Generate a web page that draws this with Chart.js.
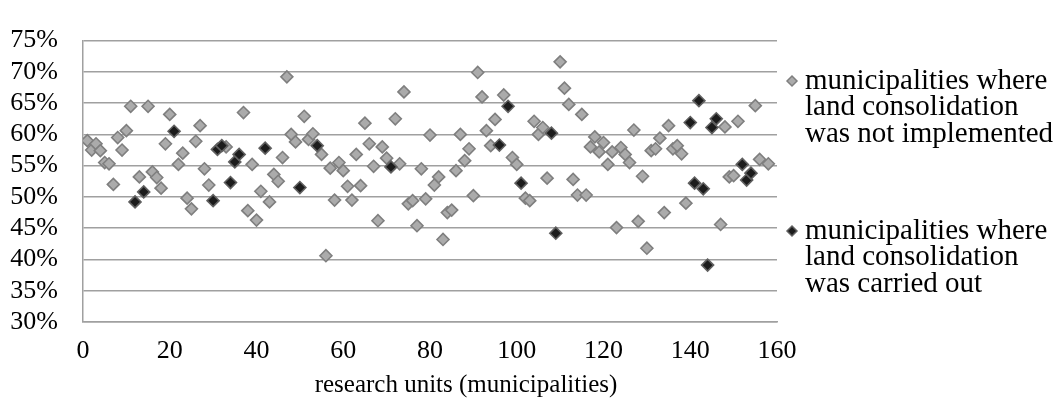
<!DOCTYPE html>
<html>
<head>
<meta charset="utf-8">
<script src="https://cdn.jsdelivr.net/npm/chart.js@4.4.0/dist/chart.umd.min.js"></script>
<style>
html,body{margin:0;padding:0;background:#fff;}
#wrap{width:1063px;height:403px;position:relative;}
canvas{display:block;}
</style>
</head>
<body>
<div id="wrap"><canvas id="c" width="1063" height="403"></canvas></div>
<script>
// ---- data ----
const notImplementedX = [1,2,3,4,5,6,7,8,9,10,11,13,15,16,17,18,19,20,22,23,24,25,26,27,28,29,33,37,38,39,40,41,43,44,45,46,47,48,49,51,52,53,55,56,57,58,59,60,61,62,63,64,65,66,67,68,69,70,72,73,74,75,76,77,78,79,80,81,82,83,84,85,86,87,88,89,90,91,92,93,94,95,97,99,100,102,103,104,105,106,107,110,111,112,113,114,115,116,117,118,119,120,121,122,123,124,125,126,127,128,129,130,131,132,133,134,135,136,137,138,139,147,148,149,150,151,155,156,158];
const notImplementedY = [59.0,57.5,58.5,57.4,55.5,55.3,52.0,59.5,57.5,60.6,64.5,53.2,64.5,54.0,53.1,51.4,58.5,63.2,55.2,57.0,49.8,48.1,58.9,61.4,54.5,51.9,58.0,63.5,47.8,55.2,46.3,50.9,49.2,53.6,52.5,56.3,69.2,60.0,58.8,62.9,59.2,60.1,56.8,40.6,54.6,49.5,55.5,54.2,51.7,49.5,56.8,51.8,61.8,58.5,54.9,46.2,58.0,56.2,62.5,55.3,66.8,48.9,49.4,45.4,54.5,49.7,59.9,51.9,53.2,43.2,47.5,47.9,54.2,60.0,55.8,57.7,50.2,69.9,66.0,60.6,58.2,62.4,66.3,56.3,55.2,49.8,49.4,62.1,60.0,61.1,53.0,71.6,67.4,64.8,52.8,50.3,63.2,50.3,58.0,59.6,57.2,58.7,55.2,57.2,45.1,57.9,56.8,55.5,60.7,46.1,53.3,41.8,57.4,57.7,59.4,47.5,61.4,57.7,58.2,56.9,49.0,45.6,61.2,53.2,53.4,62.1,64.6,56.0,55.3];

const carriedOutX = [12,14,21,30,31,32,34,35,36,42,50,54,71,96,98,101,108,109,140,141,142,143,144,145,146,152,153,154];
const carriedOutY = [49.2,50.8,60.5,49.4,57.6,58.2,52.3,55.6,56.8,57.8,51.5,58.2,54.8,58.3,64.5,52.2,60.2,44.2,61.9,52.2,65.4,51.3,39.1,61.1,62.5,55.2,52.7,53.8];

const xTickValues = [0,20,40,60,80,100,120,140,160];
const yTickValues = [30,35,40,45,50,55,60,65,70,75];

const seriesNames = [
  ["municipalities where","land consolidation","was not implemented"],
  ["municipalities where","land consolidation","was carried out"]
];
const xAxisTitle = "research units (municipalities)";

// ---- build ----
const toPts = (xs, ys) => xs.map((x, i) => ({x: x, y: ys[i]}));
const FONT = '"Liberation Serif", "Times New Roman", serif';

const styles = [
  {bg: '#ababab', border: '#7f7f7f'},
  {bg: '#1c1c1c', border: '#606060'}
];

const sideLegend = {
  id: 'sideLegend',
  afterDraw(chart) {
    const ctx = chart.ctx;
    ctx.save();
    ctx.textBaseline = 'middle';
    ctx.textAlign = 'left';
    const tops = [81, 231];
    const lineH = 26.5;
    seriesNames.forEach((lines, i) => {
      const y0 = tops[i];
      ctx.fillStyle = styles[i].bg;
      ctx.strokeStyle = styles[i].border;
      ctx.lineWidth = 1.5;
      Chart.helpers.drawPoint(ctx, {pointStyle: 'rectRot', radius: 5, borderWidth: 1.5}, 792, y0);
      ctx.fillStyle = '#000';
      ctx.font = '29px ' + FONT;
      lines.forEach((t, j) => ctx.fillText(t, 805, y0 + j * lineH));
    });
    // x-axis title
    ctx.font = '25px ' + FONT;
    ctx.textAlign = 'center';
    ctx.fillText(xAxisTitle, 466, 385);
    ctx.restore();
  }
};

const chart = new Chart(document.getElementById('c'), {
  type: 'scatter',
  data: {
    datasets: [
      {
        label: seriesNames[0].join(' '),
        data: toPts(notImplementedX, notImplementedY),
        pointStyle: 'rectRot',
        pointRadius: 6,
        pointHoverRadius: 6,
        pointBorderWidth: 1.6,
        backgroundColor: styles[0].bg,
        borderColor: styles[0].border,
        order: 1
      },
      {
        label: seriesNames[1].join(' '),
        data: toPts(carriedOutX, carriedOutY),
        pointStyle: 'rectRot',
        pointRadius: 6,
        pointHoverRadius: 6,
        pointBorderWidth: 1.6,
        backgroundColor: styles[1].bg,
        borderColor: styles[1].border,
        order: 0
      }
    ]
  },
  options: {
    responsive: false,
    animation: false,
    devicePixelRatio: 1,
    layout: {padding: {left: 0, right: 286, top: 21, bottom: 0}},
    plugins: {legend: {display: false}, tooltip: {enabled: false}},
    scales: {
      x: {
        type: 'linear',
        min: 0, max: 160,
        afterBuildTicks: (s) => { s.ticks = xTickValues.map(v => ({value: v})); },
        afterFit: (s) => { s.height = 81; },
        ticks: {font: {family: FONT, size: 26}, color: '#000', padding: 14, maxRotation: 0, autoSkip: false},
        grid: {display: false, drawTicks: false},
        border: {display: true, color: '#a0a0a0', width: 1.5}
      },
      y: {
        type: 'linear',
        min: 30, max: 75,
        afterBuildTicks: (s) => { s.ticks = yTickValues.map(v => ({value: v})); },
        afterFit: (s) => { s.width = 83; },
        ticks: {font: {family: FONT, size: 26}, color: '#000', padding: 25, autoSkip: false, callback: (v) => v + '%'},
        grid: {color: '#a0a0a0', lineWidth: 1.5, drawTicks: false},
        border: {display: true, color: '#a0a0a0', width: 1.5}
      }
    }
  },
  plugins: [sideLegend]
});
</script>
</body>
</html>
